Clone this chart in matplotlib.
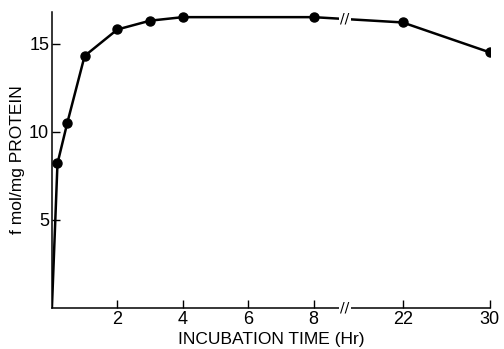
import matplotlib.pyplot as plt
import numpy as np

plt.rcParams['font.family'] = ['Liberation Sans', 'DejaVu Sans']

# incubation time (hr) and binding (fmol/mg protein)
times = [0, 0.17, 0.47, 1, 2, 3, 4, 8, 22, 30]
binding = [0, 8.2, 10.5, 14.3, 15.8, 16.3, 16.5, 16.5, 16.2, 14.5]

x_ticks = [2, 4, 6, 8, 22, 30]
y_ticks = [5, 10, 15]

# broken time axis: 8 -> 22 squeezed, after 22 one third scale
gap = 2.72


def fwd(t):
    t = np.asarray(t, dtype=float)
    return np.where(t <= 8, t,
                    np.where(t <= 22, 8 + (t - 8) * gap / 14,
                             8 + gap + (t - 22) / 3))


def inv(u):
    u = np.asarray(u, dtype=float)
    return np.where(u <= 8, u,
                    np.where(u <= 8 + gap, 8 + (u - 8) * 14 / gap,
                             22 + (u - 8 - gap) * 3))


fig = plt.figure(figsize=(5.04, 3.49), dpi=100)
ax = fig.add_axes([0.103, 0.1175, 0.869, 0.8485])
ax.set_xscale('function', functions=(fwd, inv))

ax.plot(times, binding, color='black', lw=1.8, zorder=2)
ax.plot(times[1:], binding[1:], 'o', color='black', ms=6.5, zorder=3)

ax.set_xlim(0, 30)
ax.set_ylim(0, 16.8)
ax.set_xticks(x_ticks)
ax.set_yticks(y_ticks)
ax.tick_params(direction='in', length=6, width=1, labelsize=13, pad=2)

for s in ['top', 'right']:
    ax.spines[s].set_visible(False)
for s in ['left', 'bottom']:
    ax.spines[s].set_linewidth(1.1)

# break marks on the axis and on the curve
for yy in [0, 16.42]:
    ax.text(12.9, yy, '//', ha='center', va='center', fontsize=10,
            family='DejaVu Sans', clip_on=False, zorder=4,
            bbox=dict(boxstyle='square,pad=0.1', fc='white', ec='none'))

ax.set_xlabel('INCUBATION TIME (Hr)', fontsize=12.5, labelpad=3)
ax.set_ylabel('f mol/mg PROTEIN', fontsize=12.5, labelpad=3)

fig.savefig('out.png', dpi=100)
